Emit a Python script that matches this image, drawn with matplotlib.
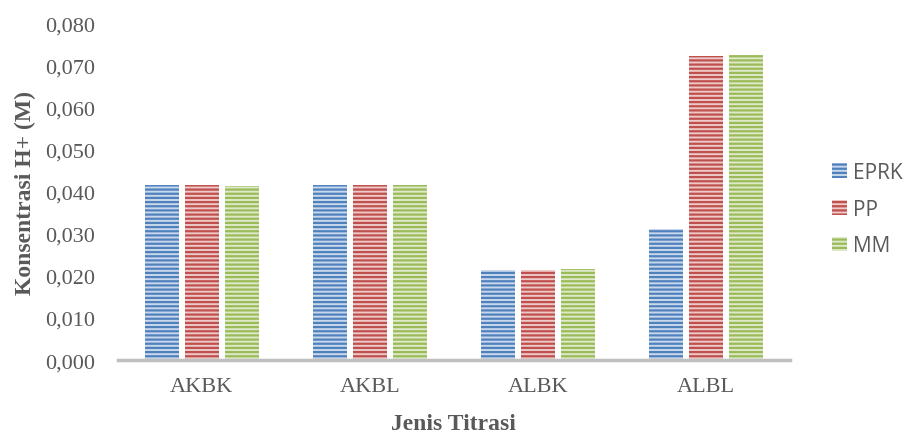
import matplotlib
matplotlib.use("Agg")
import matplotlib.pyplot as plt
import numpy as np

categories = ["AKBK", "AKBL", "ALBK", "ALBL"]
series_names = ["EPRK", "PP", "MM"]
eprk = [0.0417, 0.0416, 0.0214, 0.0312]
pp = [0.0416, 0.0416, 0.0214, 0.0724]
mm = [0.0414, 0.0416, 0.0216, 0.0726]
yticks = [0.0, 0.01, 0.02, 0.03, 0.04, 0.05, 0.06, 0.07, 0.08]

edge_colors = ["#4f81bd", "#c0504d", "#9bbb59"]
fill_colors = ["#c9d8ec", "#edc9c8", "#dde9c9"]
text_grey = "#595959"

plt.rcParams["hatch.linewidth"] = 1.6

fig = plt.figure(figsize=(9.06, 4.35), dpi=100)
ax = fig.add_axes([0.130, 0.170, 0.742, 0.7725])

x = np.arange(len(categories))
width = 0.2
offsets = [-0.238, 0.0, 0.238]
handles = []
for vals, off, ec, fc, name in zip([eprk, pp, mm], offsets, edge_colors, fill_colors, series_names):
    bars = ax.bar(x + off, vals, width, color=fc, edgecolor=ec, hatch="----",
                  linewidth=0, label=name, zorder=2)
    handles.append(bars)

ax.set_xlim(-0.5, 3.5)
ax.set_ylim(0, 0.08)
ax.set_yticks(yticks)
ax.set_yticklabels([f"{v:.3f}".replace(".", ",") for v in yticks],
                   fontsize=16, color=text_grey, family="Liberation Serif")
ax.set_xticks(x)
ax.set_xticklabels(categories, fontsize=16, color=text_grey, family="Liberation Serif")
ax.tick_params(axis="both", length=0)
ax.tick_params(axis="y", pad=16.5)
ax.tick_params(axis="x", pad=12)

for s in ["top", "right", "left"]:
    ax.spines[s].set_visible(False)
ax.spines["bottom"].set_color("#bfbfbf")
ax.spines["bottom"].set_linewidth(2.5)

ax.set_ylabel("Konsentrasi H+ (M)", fontsize=17, fontweight="bold", color=text_grey,
              family="Liberation Serif", va="center")
ax.yaxis.set_label_coords(-0.137, 0.5)
ax.set_xlabel("Jenis Titrasi", fontsize=17, fontweight="bold", color=text_grey,
              family="Liberation Serif", va="top")
ax.xaxis.set_label_coords(0.5, -0.158)

leg = fig.legend(handles=handles, labels=series_names, loc="center left",
                 bbox_to_anchor=(0.918, 0.517), frameon=False, borderpad=0,
                 borderaxespad=0,
                 prop={"family": "Open Sans", "size": 15},
                 handlelength=0.72, handleheight=0.72, handletextpad=0.3,
                 labelspacing=0.75, labelcolor=text_grey)

fig.savefig("out.png", dpi=100)
